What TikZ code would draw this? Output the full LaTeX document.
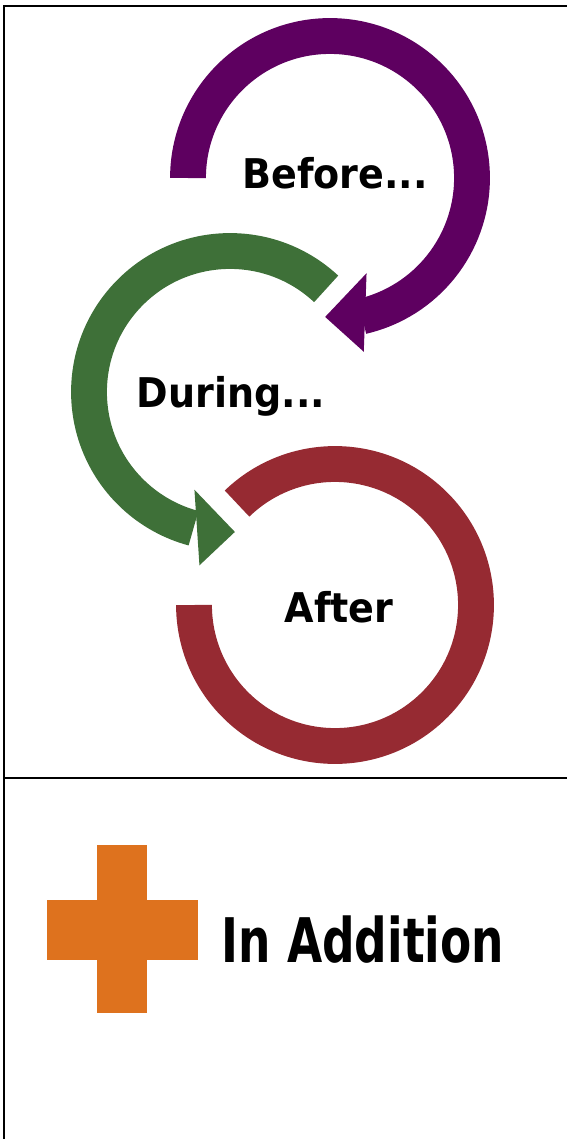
\documentclass[tikz,border=0pt]{standalone}
\usepackage{fontspec}
\newfontfamily\lblfont[FakeStretch=0.93]{DejaVu Sans}
\newfontfamily\addfont[FakeStretch=0.74]{DejaVu Sans}
\usetikzlibrary{positioning}
\definecolor{purp}{RGB}{94,0,96}
\definecolor{grn}{RGB}{62,112,56}
\definecolor{rd}{RGB}{150,42,50}
\definecolor{orng}{RGB}{222,114,30}

\begin{document}
\begin{tikzpicture}[x=0.02cm,y=-0.02cm]
\tikzset{
    ring/.style={line width=20.4pt},
    lbl/.style={font=\lblfont\bfseries\fontsize{23.3}{28}\selectfont, inner sep=0pt, anchor=base},
    addlbl/.style={font=\addfont\bfseries\fontsize{35}{42}\selectfont, inner sep=0pt, anchor=base},
    rule/.style={line width=1.2pt}
}
\useasboundingbox (0,0) rectangle (567,1139);

% --- table rules ---
\draw[rule] (567,6) -- (4,6) -- (4,1139);
\draw[rule] (4,778) -- (567,778);

% --- ring centres ---
\coordinate (cb) at (330,178);
\coordinate (cd) at (230,392);
\coordinate (ca) at (335,605);

% --- rings ---
\draw[ring,purp] ([shift={(180:142)}]cb) arc[start angle=180, end angle=437, radius=142];
\fill[purp] ([shift={(429:102)}]cb) -- ([shift={(452:139)}]cb) -- ([shift={(439:177)}]cb) -- cycle;

\draw[ring,grn] ([shift={(-47:141)}]cd) arc[start angle=-47, end angle=-255, radius=141];
\fill[grn] ([shift={(-250:104)}]cd) -- ([shift={(-272:140)}]cd) -- ([shift={(-260:176)}]cd) -- cycle;

\draw[ring,rd] ([shift={(-134:141)}]ca) arc[start angle=-134, end angle=180, radius=141];

% --- labels ---
\node[lbl] (before) at (335,188) {Before...};
\node[lbl] (during) at (231,407) {During...};
\node[lbl] (after) at (339,622) {After};

% --- in addition ---
\fill[orng] (97,845) rectangle (147,1013);
\fill[orng] (47,900) rectangle (198,960);
\node[addlbl] (addn) at (363,962) {In Addition};
\end{tikzpicture}
\end{document}
